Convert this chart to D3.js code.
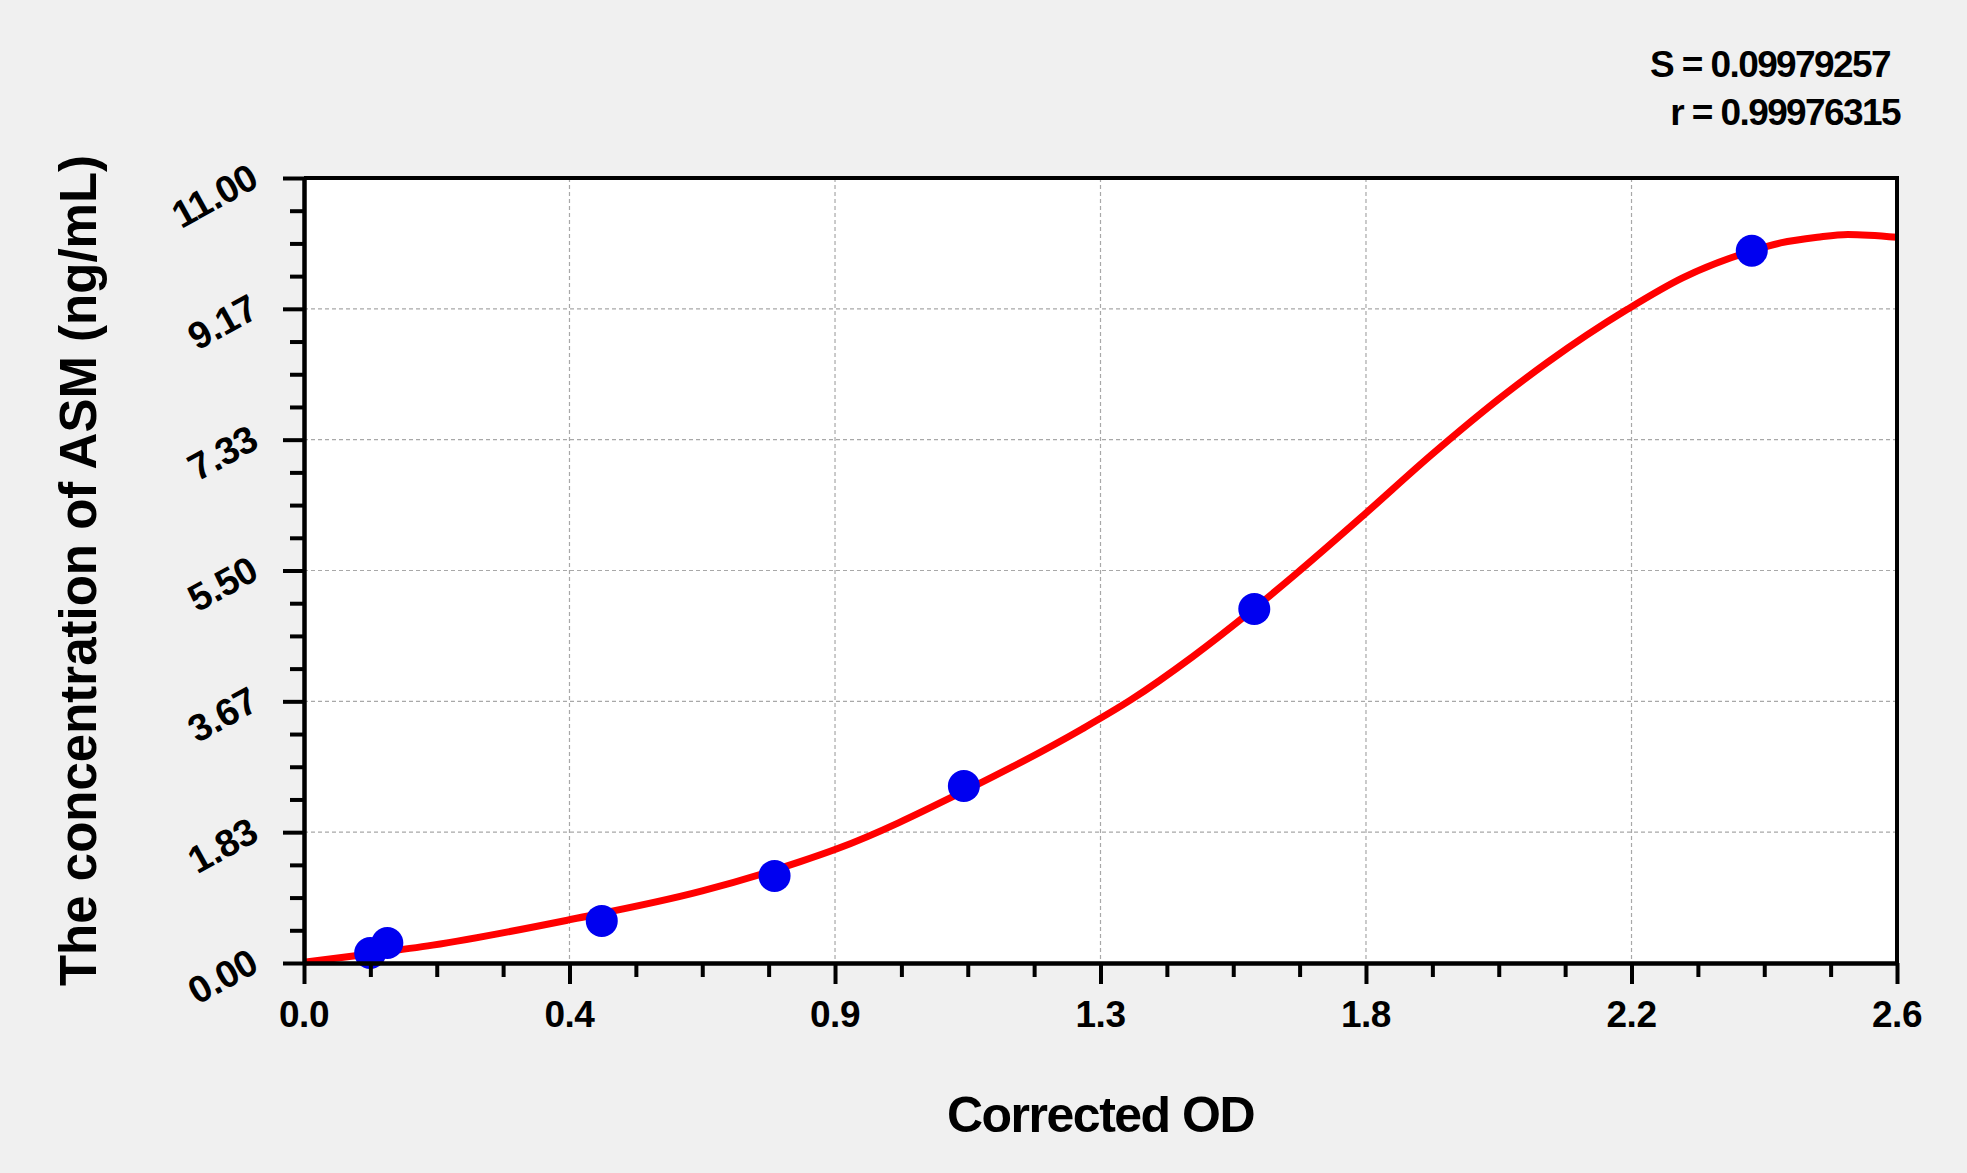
<!DOCTYPE html>
<meta charset="utf-8">
<style>
body { margin: 0; background: #f0f0f0; }
svg { display: block; font-family: "Liberation Sans", Arial, sans-serif; font-weight: bold; }
.grid line { stroke: #a8a8a8; stroke-width: 1.2px; stroke-dasharray: 4,3; }
.axis path, .axis line { stroke: #000; stroke-width: 4px; }
</style>
<body></body>
<script src="https://d3js.org/d3.v7.min.js"></script>
<script>

// standards
var pointOD   = [0.108, 0.136, 0.486, 0.768, 1.077, 1.551, 2.363];
var pointConc = [0.14, 0.28, 0.59, 1.22, 2.48, 4.96, 9.98];

// fitted curve
var curveOD   = [0, 0.10, 0.21, 0.43, 0.65, 0.81, 0.87, 1.08, 1.27, 1.35, 1.45, 1.55, 1.62, 1.73, 1.84, 1.96, 2.03, 2.16, 2.25, 2.36, 2.41, 2.47, 2.52, 2.60];
var curveConc = [0.01, 0.12, 0.25, 0.60, 1.01, 1.42, 1.60, 2.42, 3.28, 3.69, 4.29, 4.96, 5.46, 6.28, 7.12, 7.97, 8.42, 9.16, 9.60, 9.97, 10.09, 10.17, 10.21, 10.17];

var xTicks = [0, 0.4333, 0.8667, 1.3, 1.7333, 2.1667, 2.6];
var xTickLabels = ["0.0", "0.4", "0.9", "1.3", "1.8", "2.2", "2.6"];
var yTicks = [0, 1.8333, 3.6667, 5.5, 7.3333, 9.1667, 11];
var yTickLabels = ["0.00", "1.83", "3.67", "5.50", "7.33", "9.17", "11.00"];

var statLines = ["S = 0.09979257", "r = 0.99976315"];

var width = 1967,
    height = 1173,
    pl = 304, pr = 1897, pt = 178, pb = 963;

var svg = d3.select("body").append("svg")
    .attr("width", width)
    .attr("height", height);

var x = d3.scaleLinear().domain([0, 2.6]).range([pl, pr]),
    y = d3.scaleLinear().domain([0, 11]).range([pb, pt]);

// minor ticks: 4 steps between majors
function minors(t) {
  var out = [];
  for (var i = 0; i < t.length - 1; i++) {
    var step = (t[i + 1] - t[i]) / 4;
    for (var k = 1; k < 4; k++) out.push(t[i] + k * step);
  }
  return out;
}

svg.append("rect")
    .attr("x", pl).attr("y", pt)
    .attr("width", pr - pl).attr("height", pb - pt)
    .attr("fill", "#fff");

var grid = svg.append("g").attr("class", "grid");
grid.selectAll(".gx")
  .data(xTicks.slice(1, -1))
  .enter().append("line")
    .attr("x1", function(d) { return x(d); })
    .attr("x2", function(d) { return x(d); })
    .attr("y1", pt).attr("y2", pb);
grid.selectAll(".gy")
  .data(yTicks.slice(1, -1))
  .enter().append("line")
    .attr("y1", function(d) { return y(d); })
    .attr("y2", function(d) { return y(d); })
    .attr("x1", pl).attr("x2", pr);

// fitted curve
var line = d3.line()
    .x(function(d) { return x(d[0]); })
    .y(function(d) { return y(d[1]); })
    .curve(d3.curveMonotoneX);

svg.append("path")
    .datum(d3.zip(curveOD, curveConc))
    .attr("fill", "none")
    .attr("stroke", "#ff0000")
    .attr("stroke-width", 7)
    .attr("stroke-linejoin", "round")
    .attr("d", line);

svg.append("g")
  .selectAll("circle")
  .data(d3.zip(pointOD, pointConc))
  .enter().append("circle")
    .attr("r", 16)
    .attr("fill", "#0000f0")
    .attr("cx", function(d) { return x(d[0]); })
    .attr("cy", function(d) { return y(d[1]); });

// frame top/right
svg.append("path")
    .attr("d", "M" + pl + "," + pt + "H" + pr + "V" + pb)
    .attr("fill", "none")
    .attr("stroke", "#000")
    .attr("stroke-width", 4);

// axes
svg.append("g")
    .attr("class", "axis")
    .attr("transform", "translate(0," + pb + ")")
    .call(d3.axisBottom(x).tickValues(xTicks).tickSize(21).tickSizeOuter(0).tickFormat(""));
svg.append("g")
    .attr("class", "axis")
    .attr("transform", "translate(0," + pb + ")")
    .call(d3.axisBottom(x).tickValues(minors(xTicks)).tickSize(14).tickSizeOuter(0).tickFormat(""));
svg.append("g")
    .attr("class", "axis")
    .attr("transform", "translate(" + pl + ",0)")
    .call(d3.axisLeft(y).tickValues(yTicks).tickSize(21).tickSizeOuter(0).tickFormat(""));
svg.append("g")
    .attr("class", "axis")
    .attr("transform", "translate(" + pl + ",0)")
    .call(d3.axisLeft(y).tickValues(minors(yTicks)).tickSize(14).tickSizeOuter(0).tickFormat(""));

svg.selectAll(".xlab")
  .data(xTicks)
  .enter().append("text")
    .attr("x", function(d) { return x(d); })
    .attr("y", 1027)
    .attr("text-anchor", "middle")
    .attr("font-size", 37)
    .attr("letter-spacing", "-0.5px")
    .text(function(d, i) { return xTickLabels[i]; });

svg.selectAll(".ylab")
  .data(yTicks)
  .enter().append("text")
    .attr("transform", function(d) { return "translate(254," + (y(d) - 4) + ") rotate(-29)"; })
    .attr("text-anchor", "end")
    .attr("dominant-baseline", "central")
    .attr("font-size", 38)
    .attr("letter-spacing", "-0.5px")
    .text(function(d, i) { return yTickLabels[i]; });

svg.append("text")
    .attr("x", (pl + pr) / 2)
    .attr("y", 1132)
    .attr("text-anchor", "middle")
    .attr("font-size", 50)
    .attr("letter-spacing", "-1.5px")
    .text("Corrected OD");

svg.append("text")
    .attr("transform", "translate(96," + (pt + pb) / 2 + ") rotate(-90)")
    .attr("text-anchor", "middle")
    .attr("font-size", 51)
    .text("The concentration of ASM (ng/mL)");

svg.selectAll(".stat")
  .data(statLines)
  .enter().append("text")
    .attr("x", function(d, i) { return i === 0 ? 1890 : 1900; })
    .attr("y", function(d, i) { return 77 + i * 48; })
    .attr("text-anchor", "end")
    .attr("font-size", 37)
    .attr("letter-spacing", "-1.6px")
    .text(function(d) { return d; });

</script>
